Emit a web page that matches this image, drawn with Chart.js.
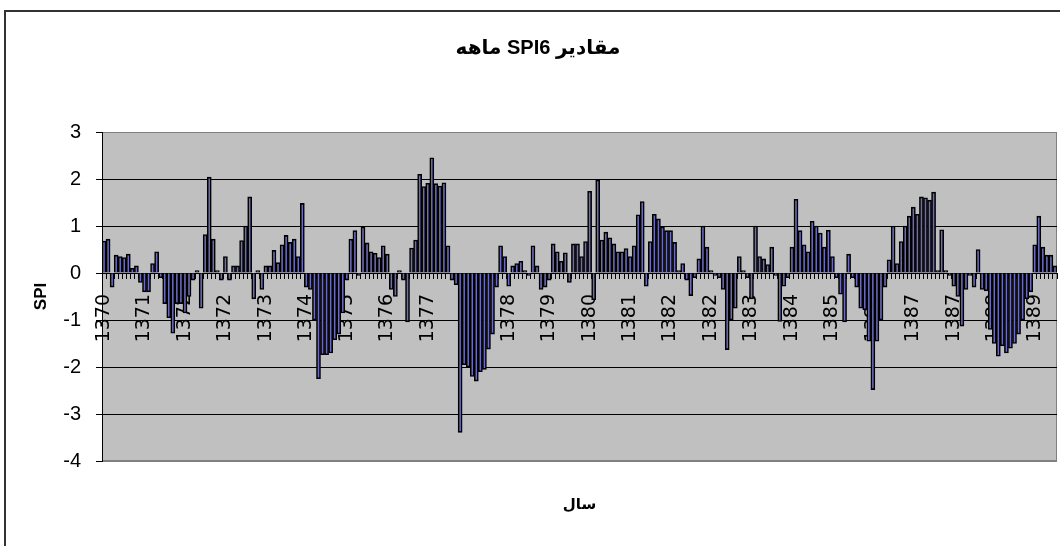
<!DOCTYPE html>
<html>
<head>
<meta charset="utf-8">
<script src="https://cdn.jsdelivr.net/npm/chart.js@4/dist/chart.umd.min.js"></script>
<style>
html,body{margin:0;padding:0;background:#fff;overflow:hidden;}
#wrap{position:relative;width:1060px;height:546px;overflow:hidden;}
#frame{position:absolute;left:4px;top:10px;width:1100px;height:600px;border-left:2px solid #333;border-top:2px solid #333;}
canvas{position:absolute;left:0;top:0;}
</style>
</head>
<body>
<div id="wrap"><div id="frame"></div><canvas id="c" width="1060" height="546"></canvas></div>
<script>
// ---- data ----
const chartTitle = "\u202Bمقادیر SPI6 ماهه\u202C";
const xAxisTitle = "سال";
const yAxisTitle = "SPI";

// one category per month (year label), first bar = month 5 of 1370
const categories = [
"1370","1370","1370","1370","1370","1370","1370","1370",
"1371","1371","1371","1371","1371","1371","1371","1371","1371","1371","1371","1371",
"1372","1372","1372","1372","1372","1372","1372","1372","1372","1372","1372","1372",
"1373","1373","1373","1373","1373","1373","1373","1373","1373","1373","1373","1373",
"1374","1374","1374","1374","1374","1374","1374","1374","1374","1374","1374","1374",
"1375","1375","1375","1375","1375","1375","1375","1375","1375","1375","1375","1375",
"1376","1376","1376","1376","1376","1376","1376","1376","1376","1376","1376","1376",
"1377","1377","1377","1377","1377","1377","1377","1377","1377","1377","1377","1377",
"1378","1378","1378","1378","1378","1378","1378","1378","1378","1378","1378","1378",
"1379","1379","1379","1379","1379","1379","1379","1379","1379","1379","1379","1379",
"1380","1380","1380","1380","1380","1380","1380","1380","1380","1380","1380","1380",
"1381","1381","1381","1381","1381","1381","1381","1381","1381","1381","1381","1381",
"1382","1382","1382","1382","1382","1382","1382","1382","1382","1382","1382","1382",
"1383","1383","1383","1383","1383","1383","1383","1383","1383","1383","1383","1383",
"1384","1384","1384","1384","1384","1384","1384","1384","1384","1384","1384","1384",
"1385","1385","1385","1385","1385","1385","1385","1385","1385","1385","1385","1385",
"1386","1386","1386","1386","1386","1386","1386","1386","1386","1386","1386","1386",
"1387","1387","1387","1387","1387","1387","1387","1387","1387","1387","1387","1387",
"1388","1388","1388","1388","1388","1388","1388","1388","1388","1388","1388","1388",
"1389","1389","1389","1389","1389","1389","1389","1389","1389","1389","1389","1389"
];

const spiValues = [
 0.68, 0.72, -0.3, 0.38, 0.35, 0.33, 0.4, 0.1, 0.15, -0.2,
 -0.4, -0.4, 0.2, 0.45, -0.1, -0.65, -0.95, -1.28, -0.65, -0.65,
 -0.85, -0.5, -0.15, 0.05, -0.75, 0.82, 2.04, 0.72, 0.05, -0.15,
 0.35, -0.15, 0.15, 0.15, 0.69, 1.0, 1.62, -0.55, 0.05, -0.35,
 0.15, 0.15, 0.48, 0.22, 0.6, 0.8, 0.65, 0.72, 0.35, 1.48,
 -0.3, -0.35, -1.0, -2.25, -1.74, -1.74, -1.7, -1.42, -1.3, -0.85,
 -0.15, 0.72, 0.9, -0.05, 0.98, 0.64, 0.45, 0.42, 0.33, 0.58,
 0.4, -0.35, -0.5, 0.05, -0.15, -1.04, 0.53, 0.7, 2.1, 1.84,
 1.91, 2.45, 1.9, 1.85, 1.92, 0.58, -0.15, -0.25, -3.39, -1.95,
 -2.0, -2.2, -2.3, -2.1, -2.05, -1.62, -1.3, -0.3, 0.58, 0.35,
 -0.28, 0.15, 0.2, 0.25, 0.05, -0.05, 0.58, 0.15, -0.35, -0.3,
 -0.15, 0.62, 0.45, 0.25, 0.43, -0.2, 0.62, 0.62, 0.35, 0.67,
 1.74, -0.57, 1.98, 0.7, 0.87, 0.75, 0.62, 0.45, 0.45, 0.52,
 0.35, 0.58, 1.24, 1.52, -0.28, 0.67, 1.25, 1.15, 0.98, 0.9,
 0.9, 0.65, 0.05, 0.2, -0.15, -0.48, -0.1, 0.3, 1.0, 0.55,
 0.05, -0.05, -0.1, -0.35, -1.63, -1.0, -0.75, 0.35, 0.05, -0.1,
 -0.55, 1.0, 0.35, 0.3, 0.18, 0.55, -0.05, -1.03, -0.28, -0.1,
 0.55, 1.57, 0.9, 0.6, 0.45, 1.1, 1.0, 0.85, 0.55, 0.91,
 0.35, -0.1, -0.45, -1.04, 0.4, -0.1, -0.3, -0.75, -0.78, -1.45,
 -2.48, -1.45, -1.0, -0.3, 0.28, 1.0, 0.2, 0.67, 1.0, 1.21,
 1.4, 1.25, 1.62, 1.6, 1.55, 1.72, 0.05, 0.92, 0.05, -0.05,
 -0.28, -0.5, -1.13, -0.35, -0.05, -0.3, 0.5, -0.35, -0.38, -1.2,
 -1.5, -1.77, -1.55, -1.7, -1.6, -1.5, -1.3, -1.0, -0.55, -0.4,
 0.6, 1.21, 0.55, 0.38, 0.38, 0.15
];

const yMin = -4, yMax = 3, yStep = 1;
const labelEvery = 10;

// ---- chart ----
const FONT = 'Arial, "Liberation Sans", "DejaVu Sans", sans-serif';

const plotBg = {
  id: 'plotBg',
  beforeDraw(chart) {
    const {ctx, chartArea: a} = chart;
    ctx.save();
    ctx.fillStyle = '#c0c0c0';
    ctx.fillRect(a.left, a.top, a.right - a.left, a.bottom - a.top);
    ctx.strokeStyle = '#808080';
    ctx.lineWidth = 1;
    ctx.strokeRect(a.left + 0.5, a.top + 0.5, a.right - a.left - 1, a.bottom - a.top - 1);
    ctx.restore();
  }
};

new Chart(document.getElementById('c'), {
  type: 'bar',
  data: {
    labels: categories,
    datasets: [{
      data: spiValues,
      backgroundColor: '#6c6cb8',
      borderColor: '#000000',
      borderWidth: 1.6,
      barPercentage: 1,
      categoryPercentage: 1
    }]
  },
  plugins: [plotBg],
  options: {
    responsive: false,
    animation: false,
    devicePixelRatio: 1,
    layout: {padding: {left: 19, right: 3, top: 0, bottom: 0}},
    plugins: {
      legend: {display: false},
      tooltip: {enabled: false},
      title: {
        display: true, text: chartTitle, color: '#000',
        font: {family: FONT, size: 20, weight: 'bold'},
        padding: {top: 36, bottom: 72}
      },
      subtitle: {
        display: true, text: xAxisTitle, position: 'bottom', fullSize: false, color: '#000',
        font: {family: FONT, size: 15, weight: 'bold'},
        padding: {top: 35, bottom: 32}
      }
    },
    scales: {
      x: {
        position: {y: 0},
        offset: true,
        grid: {drawOnChartArea: false, drawTicks: true, tickLength: 5, color: '#000', offset: true},
        border: {display: true, color: '#000'},
        ticks: {
          autoSkip: false, minRotation: 90, maxRotation: 90, padding: 16,
          color: '#000', font: {family: '"DejaVu Sans", sans-serif', size: 19},
          callback: (v, i) => (i % labelEvery === 0 ? categories[i] : '')
        },
        afterFit: s => { s.paddingLeft = 0; s.paddingRight = 0; }
      },
      y: {
        min: yMin, max: yMax,
        afterFit: s => { s.width = 83; },
        ticks: {stepSize: yStep, color: '#000', padding: 15, font: {family: FONT, size: 20}},
        grid: {
          color: c => (c.tick && (c.tick.value === yMax || c.tick.value === yMin)) ? '#808080' : '#000',
          tickColor: '#000', tickLength: 6, lineWidth: 1
        },
        border: {display: true, color: '#000'},
        title: {display: true, text: yAxisTitle, color: '#000', padding: 12,
          font: {family: FONT, size: 17, weight: 'bold'}}
      }
    }
  }
});
</script>
</body>
</html>
